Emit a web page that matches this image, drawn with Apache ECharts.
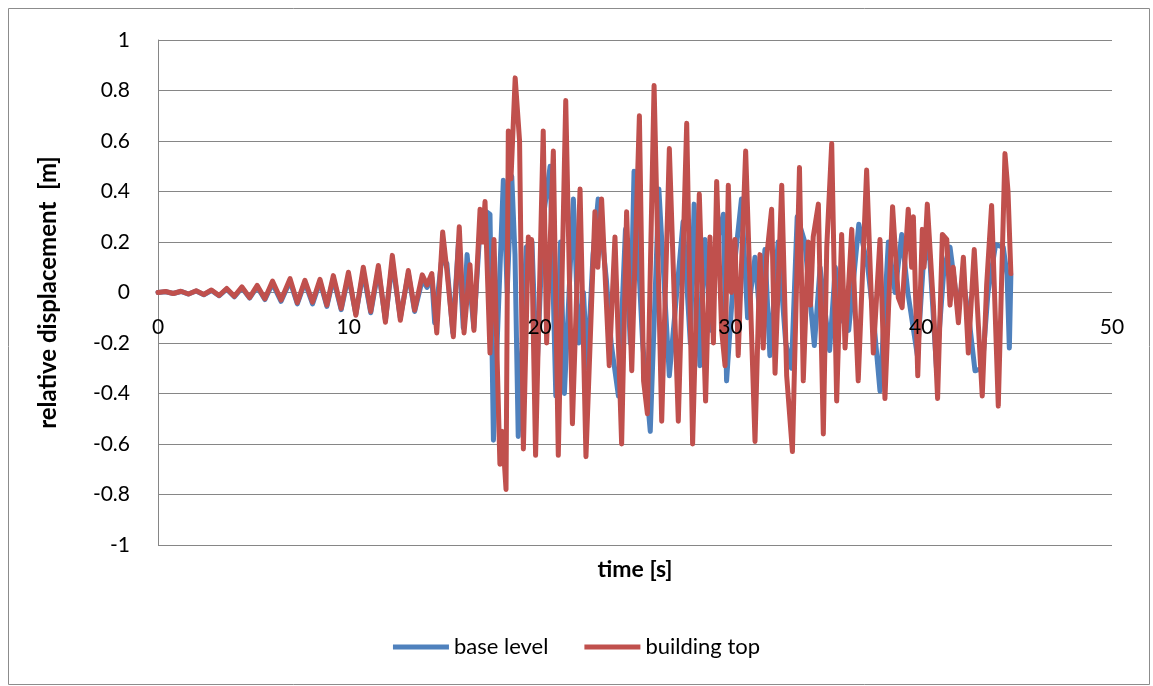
<!DOCTYPE html>
<html>
<head>
<meta charset="utf-8">
<script src="https://cdn.jsdelivr.net/npm/echarts@6/dist/echarts.min.js"></script>
<style>
html,body{margin:0;padding:0;background:#fff;}
#chart{width:1153px;height:686px;}
</style>
</head>
<body>
<div id="chart"></div>
<script>
// building top (red) — time [s]
var redT = [0,0.4,0.8,1.2,1.6,2.0,2.4,2.8,3.2,3.6,4.0,4.4,4.8,5.2,5.6,6.0,6.45,6.92,7.3,7.7,8.1,8.49,8.85,9.19,9.6,9.98,10.37,10.76,11.15,11.55,11.92,12.28,12.7,13.12,13.45,13.85,14.1,14.35,14.61,14.92,15.15,15.48,15.79,16.04,16.35,16.56,16.88,17.0,17.14,17.4,17.61,17.92,18.05,18.24,18.36,18.5,18.72,18.95,19.15,19.41,19.5,19.58,19.79,20.19,20.37,20.72,20.98,21.37,21.72,22.12,22.43,22.9,23.05,23.25,23.65,23.95,24.3,24.56,24.83,25.23,25.45,25.65,26.0,26.4,26.8,27.27,27.71,28.02,28.37,28.7,28.93,29.11,29.28,29.54,29.72,29.89,30.05,30.24,30.41,30.8,31.29,31.55,31.72,31.9,32.16,32.34,32.69,32.95,33.25,33.62,33.82,34.08,34.2,34.34,34.61,34.87,35.05,35.31,35.57,35.83,36.01,36.36,36.7,37.14,37.49,37.84,38.1,38.5,38.8,39.0,39.32,39.5,39.59,39.82,40.06,40.15,40.32,40.64,40.86,41.11,41.34,41.51,41.68,41.95,42.21,42.47,42.78,43.2,43.43,43.69,44.04,44.39,44.55,44.7];
// building top (red) — relative displacement [m]
var redV = [0,0.004,-0.004,0.005,-0.006,0.007,-0.008,0.01,-0.012,0.016,-0.015,0.022,-0.02,0.028,-0.025,0.045,-0.03,0.055,-0.04,0.048,-0.038,0.052,-0.05,0.067,-0.063,0.08,-0.09,0.1,-0.075,0.107,-0.118,0.147,-0.11,0.087,-0.07,0.07,0.03,0.075,-0.16,0.24,0.08,-0.175,0.26,-0.16,0.11,-0.15,0.33,0.2,0.36,-0.24,0.21,-0.68,-0.55,-0.78,0.64,0.45,0.85,0.6,-0.62,0.22,0.1,0.21,-0.645,0.64,-0.2,0.56,-0.645,0.76,-0.52,0.41,-0.65,0.32,0.1,0.37,-0.29,0.22,-0.6,0.32,-0.31,0.7,-0.35,-0.48,0.82,-0.51,0.57,-0.51,0.67,-0.6,0.39,-0.43,0.22,-0.2,0.44,-0.15,-0.29,0.425,0,0.21,-0.25,0.56,-0.59,0.15,-0.22,0.14,0.33,-0.32,0.425,-0.33,-0.63,0.495,-0.35,0.2,-0.05,0.22,0.35,-0.56,0.18,0.59,-0.43,0.23,-0.22,0.25,-0.35,0.485,-0.24,0.21,-0.42,0.34,-0.02,-0.06,0.33,0.1,0.3,-0.33,0.25,0.1,0.35,-0.05,-0.42,0.23,0.21,-0.05,0.1,-0.12,0.14,-0.24,0.17,-0.41,0.03,0.345,-0.45,0.55,0.4,0.075];
// base level (blue) — time [s]
var blueT = [0,0.4,0.8,1.2,1.6,2.0,2.4,2.8,3.2,3.6,4.0,4.4,4.8,5.2,5.6,6.0,6.45,6.92,7.3,7.7,8.1,8.49,8.85,9.19,9.6,9.98,10.37,10.76,11.15,11.55,11.92,12.28,12.7,13.12,13.45,13.85,14.1,14.35,14.5,14.85,15.14,15.45,15.75,16.0,16.2,16.55,16.9,17.2,17.4,17.58,18.1,18.3,18.54,18.71,18.88,19.3,19.6,19.85,20.2,20.55,20.85,21.1,21.3,21.77,22.05,22.3,22.5,22.8,23.07,23.5,23.75,24.13,24.5,24.75,24.95,25.4,25.8,26.25,26.8,27.52,27.9,28.1,28.4,28.67,29.0,29.3,29.63,29.8,30.2,30.58,30.9,31.29,31.55,31.81,32.07,32.5,32.9,33.2,33.5,33.9,34.4,34.7,35.2,35.5,35.8,36.2,36.73,37.2,37.5,37.84,38.28,38.63,38.98,39.3,39.8,40.1,40.4,40.8,41.2,41.51,41.9,42.2,42.5,42.82,43.2,43.5,43.9,44.3,44.5,44.62,44.7];
// base level (blue) — relative displacement [m]
var blueV = [0,0.003,-0.004,0.004,-0.006,0.006,-0.009,0.008,-0.013,0.013,-0.017,0.018,-0.022,0.022,-0.028,0.035,-0.035,0.045,-0.045,0.04,-0.045,0.042,-0.055,0.055,-0.068,0.065,-0.085,0.08,-0.08,0.09,-0.11,0.12,-0.1,0.075,-0.075,0.05,0.02,0.06,-0.12,0.12,0.115,-0.16,0.2,-0.14,0.15,-0.14,0.28,0.32,0.31,-0.585,0.445,0.0,0.46,0.15,-0.57,0.18,0.2,-0.33,0.3,0.5,-0.41,0.2,-0.4,0.37,-0.2,0.0,-0.3,0.15,0.37,0.05,-0.2,-0.41,0.25,-0.2,0.48,-0.2,-0.55,0.41,-0.33,0.28,-0.2,0.35,-0.29,0.21,-0.15,0.2,0.31,-0.35,0.1,0.37,-0.1,0.14,-0.1,0.17,-0.25,0.2,-0.2,-0.3,0.3,0.2,-0.21,0.1,-0.23,0.1,-0.1,-0.15,0.27,0.1,-0.1,-0.39,0.2,0.0,0.23,0.0,-0.25,0.1,0.2,-0.3,0.1,0.18,-0.05,0.05,-0.1,-0.31,-0.3,0.0,0.19,0.18,0.07,-0.22,0.07];

var seriesNames = ['base level', 'building top'];
var seriesColors = ['#4F81BD', '#C0504D'];

function zip(t, v) { return t.map(function (x, i) { return [x, v[i]]; }); }

var FONT = 'Lato, "Open Sans", sans-serif';
var chart = echarts.init(document.getElementById('chart'), null, { renderer: 'canvas' });
chart.setOption({
  animation: false,
  backgroundColor: '#ffffff',
  graphic: [{
    type: 'rect',
    shape: { x: 8.5, y: 8.5, width: 1141, height: 676 },
    style: { fill: 'none', stroke: '#8c8c8c', lineWidth: 1 },
    silent: true
  }],
  grid: { left: 158, right: 41, top: 40, bottom: 141, containLabel: false, outerBoundsMode: 'none' },
  legend: {
    top: 631,
    left: 'center',
    icon: 'rect',
    itemWidth: 56,
    itemHeight: 5,
    itemGap: 36,
    textStyle: { fontFamily: FONT, fontSize: 22, color: '#000' },
    data: seriesNames
  },
  xAxis: {
    type: 'value',
    position: 'bottom',
    offset: -252.5,
    z: 10,
    min: 0, max: 50, interval: 10,
    name: 'time [s]',
    nameLocation: 'middle',
    nameGap: 266,
    nameTextStyle: { fontFamily: FONT, fontSize: 23, fontWeight: 'bold', color: '#000' },
    axisLine: { show: false, onZero: false },
    axisTick: { show: false },
    splitLine: { show: false },
    axisLabel: { margin: 24, fontFamily: FONT, fontSize: 21, color: '#000' }
  },
  yAxis: {
    type: 'value',
    min: -1, max: 1, interval: 0.2,
    name: 'relative displacement  [m]',
    nameLocation: 'middle',
    nameRotate: 90,
    nameGap: 98,
    nameTextStyle: { fontFamily: FONT, fontSize: 24, fontWeight: 'bold', color: '#000' },
    axisLine: { show: true, onZero: false, lineStyle: { color: '#868686', width: 1 } },
    axisTick: { show: false },
    splitLine: { lineStyle: { color: '#868686', width: 1 } },
    axisLabel: { margin: 28, fontFamily: FONT, fontSize: 21, color: '#000' }
  },
  series: [
    {
      name: seriesNames[0], type: 'line', data: zip(blueT, blueV),
      showSymbol: false, symbol: 'none', color: seriesColors[0],
      lineStyle: { width: 5, color: seriesColors[0], join: 'round', cap: 'round' }, z: 2
    },
    {
      name: seriesNames[1], type: 'line', data: zip(redT, redV),
      showSymbol: false, symbol: 'none', color: seriesColors[1],
      lineStyle: { width: 5, color: seriesColors[1], join: 'round', cap: 'round' }, z: 3
    }
  ]
});
</script>
</body>
</html>
